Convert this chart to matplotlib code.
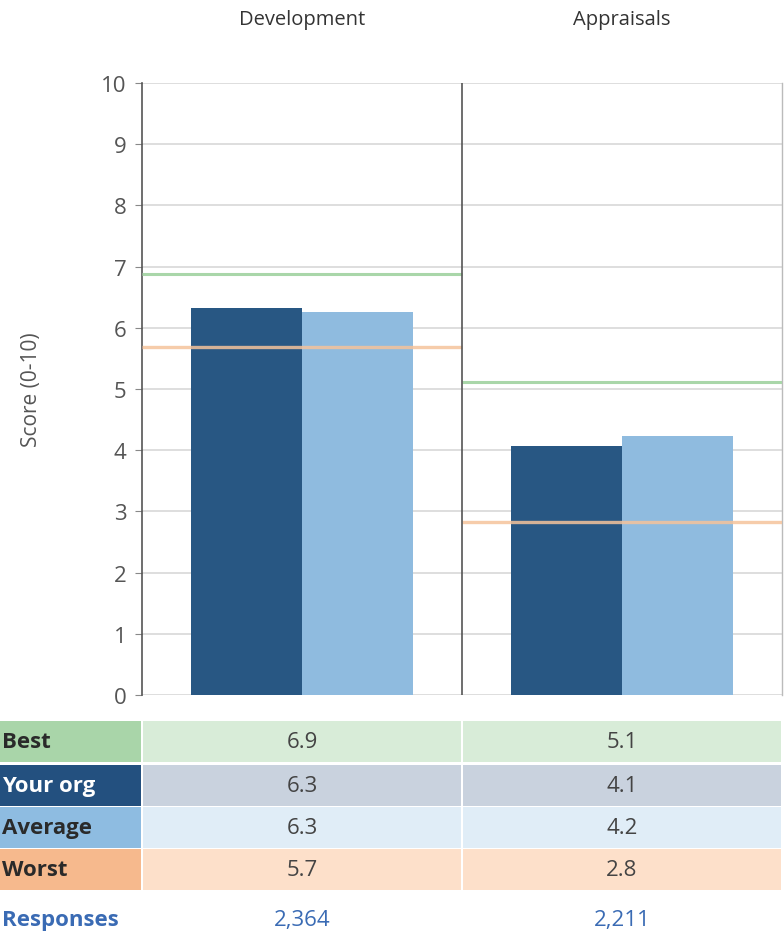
import matplotlib
matplotlib.use("Agg")
import matplotlib.pyplot as plt
from matplotlib.patches import Rectangle
from matplotlib.transforms import blended_transform_factory

plt.rcParams['font.family'] = ['Open Sans', 'DejaVu Sans']

# Data
categories = ["Development", "Appraisals"]
your_org = [6.32, 4.07]
average = [6.26, 4.23]
best = [6.88, 5.12]
worst = [5.69, 2.83]
responses = ["2,364", "2,211"]
yticks = list(range(0, 11))

# Colours
c_dark = "#285783"
c_light = "#8fbbdf"
c_best_line = "#a9d6a9"
c_worst_line = "#f5c39b"

W, H = 784, 937
fig = plt.figure(figsize=(W / 100, H / 100), dpi=100)

def fx(px):
    return px / W

def fy(py):
    return 1 - py / H

ax_left, ax_right = 142, 782
ax_top, ax_bot = 84, 696
ax = fig.add_axes([fx(ax_left), fy(ax_bot), fx(ax_right - ax_left), fy(ax_top) - fy(ax_bot)])

n = len(categories)
ax.set_xlim(-0.5, n - 0.5)
ax.set_ylim(0, 10)

bw = 0.347
xs = list(range(n))
ax.bar([x - bw / 2 for x in xs], your_org, width=bw, color=c_dark, zorder=2)
ax.bar([x + bw / 2 for x in xs], average, width=bw, color=c_light, zorder=2)

for i in xs:
    ax.hlines(best[i], i - 0.5, i + 0.5, color=c_best_line, lw=2.2, zorder=3)
    ax.hlines(worst[i], i - 0.5, i + 0.5, color=c_worst_line, lw=2.4, alpha=0.85, zorder=3)

# Gridlines and category dividers
ax.set_yticks(yticks)
ax.yaxis.grid(True, color="#d8d8d8", lw=1.2, zorder=0)
ax.set_axisbelow(True)
for i in range(1, n):
    ax.axvline(i - 0.5, color="#555555", lw=1.2, zorder=4)

for s in ["top", "bottom"]:
    ax.spines[s].set_visible(False)
ax.spines["left"].set_color("#555555")
ax.spines["left"].set_linewidth(1.2)
ax.spines["right"].set_color("#bbbbbb")
ax.spines["right"].set_linewidth(1.0)

ax.set_xticks([])
ax.tick_params(axis="y", length=5, color="#888888", labelsize=16, labelcolor="#555555", pad=6)
fig.text(fx(32), fy(390), "Score (0-10)", rotation=90, ha="center", va="center",
         fontsize=15, color="#555555")

# Category headings
for i, c in enumerate(categories):
    ax.text(i, (ax_bot - 20) / (ax_bot - ax_top), c,
            transform=blended_transform_factory(ax.transData, ax.transAxes),
            ha="center", va="center", fontsize=14.5, color="#333333")

# Summary table beneath the chart
tab = fig.add_axes([0, 0, 1, 1], facecolor="none")
tab.set_xlim(0, 1)
tab.set_ylim(0, 1)
tab.axis("off")
trans = blended_transform_factory(ax.transData, fig.transFigure)

rows = [
    ("Best", best, "#a9d5a9", "#d8ecd8", "#2a2a2a"),
    ("Your org", your_org, "#23507f", "#c9d2de", "#ffffff"),
    ("Average", average, "#8ebce1", "#e0edf7", "#2a2a2a"),
    ("Worst", worst, "#f6b98d", "#fde0ca", "#2a2a2a"),
]
row_tops = [722, 766, 808, 850]
row_h = 41
label_x0, label_x1 = -12, 141

for (name, vals, lab_bg, cell_bg, lab_fg), top in zip(rows, row_tops):
    y0 = fy(top + row_h)
    h = row_h / H
    tab.add_patch(Rectangle((fx(label_x0), y0), fx(label_x1 - label_x0), h,
                            facecolor=lab_bg, edgecolor="none"))
    tab.text(fx(2), y0 + h / 2, name, ha="left", va="center", fontsize=16,
             fontweight="bold", color=lab_fg)
    for i, v in enumerate(vals):
        tab.add_patch(Rectangle((i - 0.5 + 0.004, y0), 1 - 0.008, h, transform=trans,
                                facecolor=cell_bg, edgecolor="none"))
        tab.text(i, y0 + h / 2, f"{v:.1f}", transform=trans, ha="center", va="center",
                 fontsize=16, color="#444444")

resp_y = fy(921)
tab.text(fx(2), resp_y, "Responses", ha="left", va="center", fontsize=16,
         fontweight="bold", color="#3a6bb4")
for i, r in enumerate(responses):
    tab.text(i, resp_y, r, transform=trans, ha="center", va="center",
             fontsize=16, color="#3a6bb4")

fig.savefig("out.png", dpi=100)
